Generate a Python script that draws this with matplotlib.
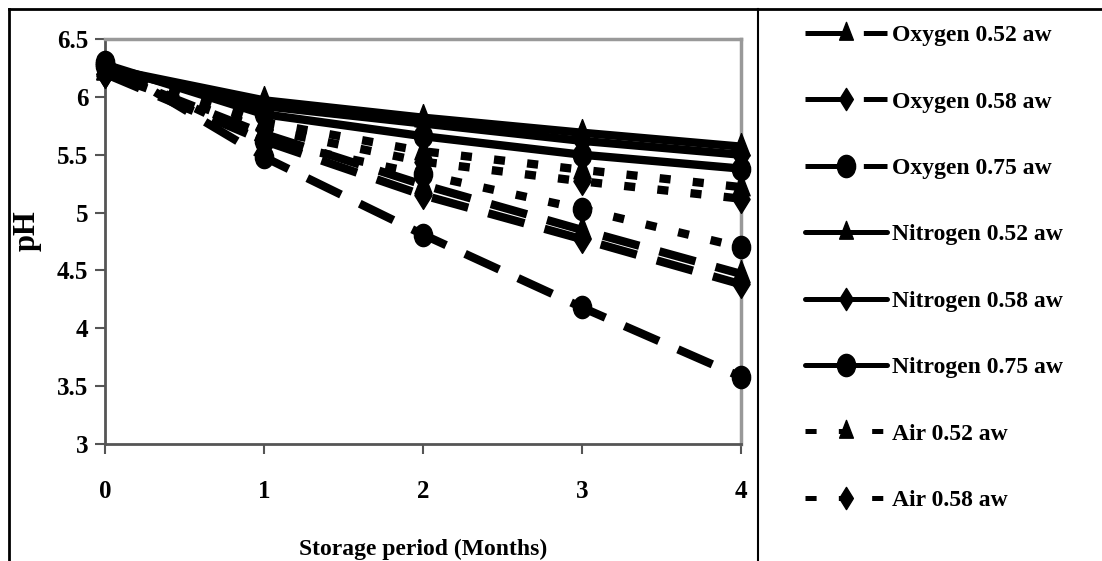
import matplotlib
matplotlib.use("Agg")
import matplotlib.pyplot as plt
import matplotlib.path as mpath
from matplotlib.lines import Line2D
import numpy as np

## data
months = [0, 1, 2, 3, 4]
labels = ["Oxygen 0.52 aw", "Oxygen 0.58 aw", "Oxygen 0.75 aw",
          "Nitrogen 0.52 aw", "Nitrogen 0.58 aw", "Nitrogen 0.75 aw",
          "Air 0.52 aw", "Air 0.58 aw", "Air 0.75 aw"]
oxygen_052 = [6.22, 5.68, 5.24, 4.85, 4.47]
oxygen_058 = [6.20, 5.62, 5.15, 4.77, 4.38]
oxygen_075 = [6.30, 5.48, 4.81, 4.18, 3.58]
nitrogen_052 = [6.25, 5.97, 5.82, 5.69, 5.57]
nitrogen_058 = [6.25, 5.92, 5.77, 5.62, 5.50]
nitrogen_075 = [6.28, 5.85, 5.66, 5.50, 5.38]
air_052 = [6.22, 5.78, 5.53, 5.37, 5.22]
air_058 = [6.20, 5.72, 5.44, 5.27, 5.12]
air_075 = [6.27, 5.62, 5.33, 5.03, 4.70]
series = [oxygen_052, oxygen_058, oxygen_075,
          nitrogen_052, nitrogen_058, nitrogen_075,
          air_052, air_058, air_075]
yticks = [3, 3.5, 4, 4.5, 5, 5.5, 6, 6.5]
ytick_labels = ["3", "3.5", "4", "4.5", "5", "5.5", "6", "6.5"]

plt.rcParams['font.family'] = ['Liberation Serif', 'DejaVu Serif']
plt.rcParams['font.weight'] = 'bold'
plt.rcParams['lines.scale_dashes'] = False

# Excel-ish markers, a bit taller than wide
circ = mpath.Path.unit_circle()
ellipse = mpath.Path(circ.vertices * [0.82, 1.0], circ.codes)
diamond = mpath.Path([(0, 1), (0.62, 0), (0, -1), (-0.62, 0), (0, 1)], closed=True)
triangle = mpath.Path([(0, 1), (0.62, -0.6), (-0.62, -0.6), (0, 1)], closed=True)

markers = [triangle, diamond, ellipse] * 3
msizes = [20, 20, 16] * 3
dash_o = (0, (27, 15))
dash_a = (0, (8, 16))
styles = [dash_o] * 3 + ['-'] * 3 + [dash_a] * 3

fig = plt.figure(figsize=(11.02, 5.61), dpi=100)
ax = fig.add_axes([105 / 1102, 117 / 561, 636 / 1102, 405 / 561])

for vals, mk, ms, ls in zip(series, markers, msizes, styles):
    ax.plot(months, vals, color='black', lw=6, ls=ls, marker=mk, ms=ms,
            dash_capstyle='butt', solid_capstyle='round', clip_on=False, zorder=3)

ax.set_xlim(0, 4)
ax.set_ylim(3, 6.5)
ax.set_xticks(months)
ax.set_xticklabels([str(m) for m in months], fontsize=18, fontweight='bold')
ax.set_yticks(yticks)
ax.set_yticklabels(ytick_labels, fontsize=18, fontweight='bold')
ax.tick_params(axis='x', length=7, width=1.5, color='#555555', pad=19)
ax.tick_params(axis='y', length=7, width=1.5, color='#555555', pad=5)
for side in ['left', 'bottom']:
    ax.spines[side].set_color('#555555')
    ax.spines[side].set_linewidth(2)
for side in ['top', 'right']:
    ax.spines[side].set_color('#999999')
    ax.spines[side].set_linewidth(2.5)

ax.set_xlabel("Storage period (Months)", fontsize=17, fontweight='bold')
ax.xaxis.set_label_coords(0.5, -0.235)
ax.set_ylabel("pH", fontsize=22, fontweight='bold')
ax.yaxis.set_label_coords(-0.1, 0.526)

## legend: in the source image the last entry (Air 0.75) falls below the crop,
## so only the first eight are shown
handles = []
for mk, ls in zip(markers, styles):
    handles.append(Line2D([], [], color='black', lw=3.6, ls=ls, marker=mk, ms=16,
                          dash_capstyle='butt', solid_capstyle='round'))
fig.legend(handles[:8], labels[:8], loc='upper left', bbox_to_anchor=(793 / 1102, 1 - 13 / 561),
           frameon=False, handlelength=3.5, handletextpad=0.2,
           labelspacing=1.9, borderpad=0, numpoints=1,
           prop={'family': 'Liberation Serif', 'weight': 'bold', 'size': 17})

## outer frame like the pasted Excel chart
top = 1 - 9 / 561
fig.add_artist(Line2D([9 / 1102, 1], [top, top], transform=fig.transFigure, color='black', lw=2))
fig.add_artist(Line2D([9 / 1102, 9 / 1102], [0, top], transform=fig.transFigure, color='black', lw=2))
fig.add_artist(Line2D([758 / 1102, 758 / 1102], [0, top], transform=fig.transFigure, color='black', lw=1.5))

fig.savefig("out.png", dpi=100)
